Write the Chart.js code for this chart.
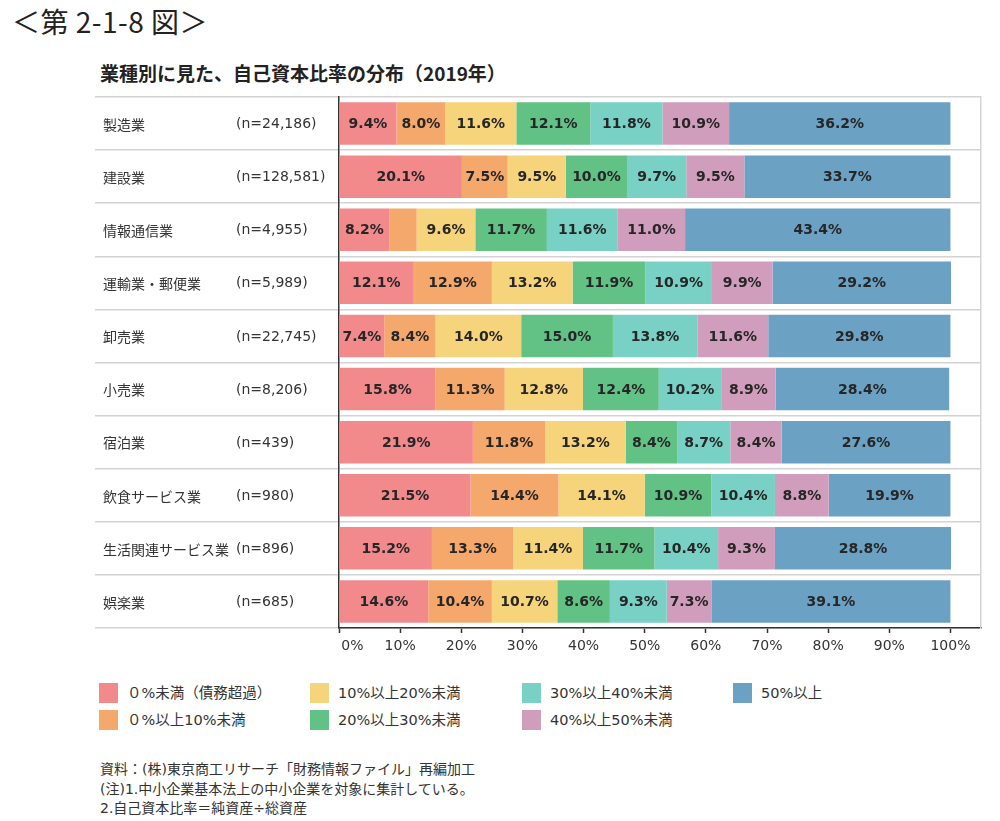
<!DOCTYPE html>
<html lang="ja">
<head>
<meta charset="utf-8">
<script src="https://cdn.jsdelivr.net/npm/chart.js@4/dist/chart.umd.min.js"></script>
<style>
  html, body { margin: 0; padding: 0; background: #fff; }
  body { width: 1000px; height: 821px; position: relative; overflow: hidden;
         font-family: "DejaVu Sans", "Noto Sans CJK JP", sans-serif; color: #333; }
  #wrap { position: absolute; left: 0; top: 0; width: 1000px; height: 668px; }
  #title { position: absolute; left: 12px; top: 1px; font-family: "Noto Sans CJK JP", sans-serif;
           font-size: 28px; color: #222; white-space: nowrap; letter-spacing: 0.5px; }
  #subtitle { position: absolute; left: 100px; top: 59px; font-family: "Noto Sans CJK JP", sans-serif;
              font-weight: bold; font-size: 19px; color: #222; white-space: nowrap; }
  .lg { position: absolute; height: 20px; white-space: nowrap; font-size: 14.5px; line-height: 20px; color: #333; }
  .lg i { position: absolute; left: 0; top: 0; width: 19px; height: 20px; }
  .lg span { position: absolute; left: 28px; top: 0; font-family: "DejaVu Sans", "Noto Sans CJK JP", sans-serif; }
  #notes { position: absolute; left: 100px; top: 760px; font-size: 14px; line-height: 19.5px; color: #333; }
</style>
</head>
<body>
<div id="title">＜第 2-1-8 図＞</div>
<div id="subtitle">業種別に見た、自己資本比率の分布（2019年）</div>
<div id="wrap"><canvas id="c" width="1000" height="668"></canvas></div>
<div id="legend"></div>
<div id="notes">
  <div>資料：(株)東京商工リサーチ「財務情報ファイル」再編加工</div>
  <div>(注)1.中小企業基本法上の中小企業を対象に集計している。</div>
  <div>2.自己資本比率＝純資産÷総資産</div>
</div>
<script>
// ---- data ----
const categories = ["製造業", "建設業", "情報通信業", "運輸業・郵便業", "卸売業", "小売業", "宿泊業", "飲食サービス業", "生活関連サービス業", "娯楽業"];
const sampleSizes = ["(n=24,186)", "(n=128,581)", "(n=4,955)", "(n=5,989)", "(n=22,745)", "(n=8,206)", "(n=439)", "(n=980)", "(n=896)", "(n=685)"];
const seriesNames = ["０%未満（債務超過）", "０%以上10%未満", "10%以上20%未満", "20%以上30%未満", "30%以上40%未満", "40%以上50%未満", "50%以上"];
const below0    = [9.4, 20.1, 8.2, 12.1, 7.4, 15.8, 21.9, 21.5, 15.2, 14.6];
const from0to10 = [8.0, 7.5, 4.5, 12.9, 8.4, 11.3, 11.8, 14.4, 13.3, 10.4];
const from10to20 = [11.6, 9.5, 9.6, 13.2, 14.0, 12.8, 13.2, 14.1, 11.4, 10.7];
const from20to30 = [12.1, 10.0, 11.7, 11.9, 15.0, 12.4, 8.4, 10.9, 11.7, 8.6];
const from30to40 = [11.8, 9.7, 11.6, 10.9, 13.8, 10.2, 8.7, 10.4, 10.4, 9.3];
const from40to50 = [10.9, 9.5, 11.0, 9.9, 11.6, 8.9, 8.4, 8.8, 9.3, 7.3];
const over50     = [36.2, 33.7, 43.4, 29.2, 29.8, 28.4, 27.6, 19.9, 28.8, 39.1];
const xTicks = [0, 10, 20, 30, 40, 50, 60, 70, 80, 90, 100];

const seriesValues = [below0, from0to10, from10to20, from20to30, from30to40, from40to50, over50];
const colors = ["#F28A8C", "#F5A86C", "#F6D47C", "#62C185", "#79D0C5", "#D09EBC", "#6BA1C2"];

// ---- legend (HTML, 2 rows, filled column by column) ----
const legendCols = [99, 310, 522, 733];
const legendRows = [683, 710];
const legendEl = document.getElementById('legend');
seriesNames.forEach((name, i) => {
  const d = document.createElement('div');
  d.className = 'lg';
  d.style.left = legendCols[Math.floor(i / 2)] + 'px';
  d.style.top = legendRows[i % 2] + 'px';
  d.innerHTML = '<i style="background:' + colors[i] + '"></i><span>' + name + '</span>';
  legendEl.appendChild(d);
});

// ---- plugins ----
const FONT_LATIN = '"DejaVu Sans", "Noto Sans CJK JP", sans-serif';
const rowLabels = {
  id: 'rowLabels',
  afterDraw(chart) {
    const ctx = chart.ctx;
    const ys = chart.scales.y;
    ctx.save();
    ctx.fillStyle = '#333';
    ctx.textBaseline = 'middle';
    ctx.textAlign = 'left';
    categories.forEach((c, i) => {
      const y = ys.getPixelForValue(i);
      ctx.font = '14px "Noto Sans CJK JP", sans-serif';
      ctx.fillText(c, 103, y + 1);
      ctx.font = '14px ' + FONT_LATIN;
      ctx.fillText(sampleSizes[i], 236, y + 1);
    });
    ctx.restore();
  }
};
const segLabels = {
  id: 'segLabels',
  afterDatasetsDraw(chart) {
    const ctx = chart.ctx;
    ctx.save();
    ctx.font = 'bold 14px ' + FONT_LATIN;
    ctx.fillStyle = '#262626';
    ctx.textAlign = 'center';
    ctx.textBaseline = 'middle';
    chart.data.datasets.forEach((ds, di) => {
      const meta = chart.getDatasetMeta(di);
      meta.data.forEach((el, i) => {
        const v = ds.data[i];
        if (v < 5) return;
        const p = el.getProps(['x', 'y', 'base'], true);
        ctx.fillText(v.toFixed(1) + '%', (p.x + p.base) / 2, p.y + 1);
      });
    });
    ctx.restore();
  }
};

new Chart(document.getElementById('c'), {
  type: 'bar',
  data: {
    labels: categories,
    datasets: seriesValues.map((vals, i) => ({
      label: seriesNames[i],
      data: vals,
      backgroundColor: colors[i],
      borderWidth: 0,
      barPercentage: 0.8,
      categoryPercentage: 1.0
    }))
  },
  options: {
    indexAxis: 'y',
    responsive: false,
    animation: false,
    layout: { padding: { left: 95, right: 19, top: 97, bottom: 0 } },
    plugins: { legend: { display: false }, tooltip: { enabled: false } },
    scales: {
      x: {
        stacked: true,
        min: 0,
        max: 105,
        z: 1,
        afterBuildTicks(s) { s.ticks = xTicks.map(v => ({ value: v })); },
        afterFit(s) { s.height = 40; },
        ticks: {
          color: '#333',
          padding: 5,
          font: { size: 14, family: FONT_LATIN },
          callback: v => (v === 0 ? '\u2007\u2007\u20070%' : v + '%')
        },
        grid: { display: true, drawOnChartArea: false, drawTicks: true, tickLength: 5, tickColor: '#333', tickWidth: 1.5 },
        border: { display: true, color: '#333', width: 1.5 }
      },
      y: {
        stacked: true,
        afterFit(s) { s.width = 244; },
        ticks: { display: false },
        grid: { display: true, offset: true, drawOnChartArea: true, drawTicks: true, tickLength: 244,
                color: '#d3d3d3', tickColor: '#d3d3d3', lineWidth: 1.5, tickWidth: 1.5 },
        border: { display: true, color: '#333', width: 1.5 }
      },
      yR: {
        type: 'linear',
        position: 'right',
        display: true,
        afterFit(s) { s.width = 0; },
        ticks: { display: false },
        grid: { display: false, drawTicks: false },
        border: { display: true, color: '#d3d3d3', width: 1.5 }
      }
    }
  },
  plugins: [rowLabels, segLabels]
});
</script>
</body>
</html>
